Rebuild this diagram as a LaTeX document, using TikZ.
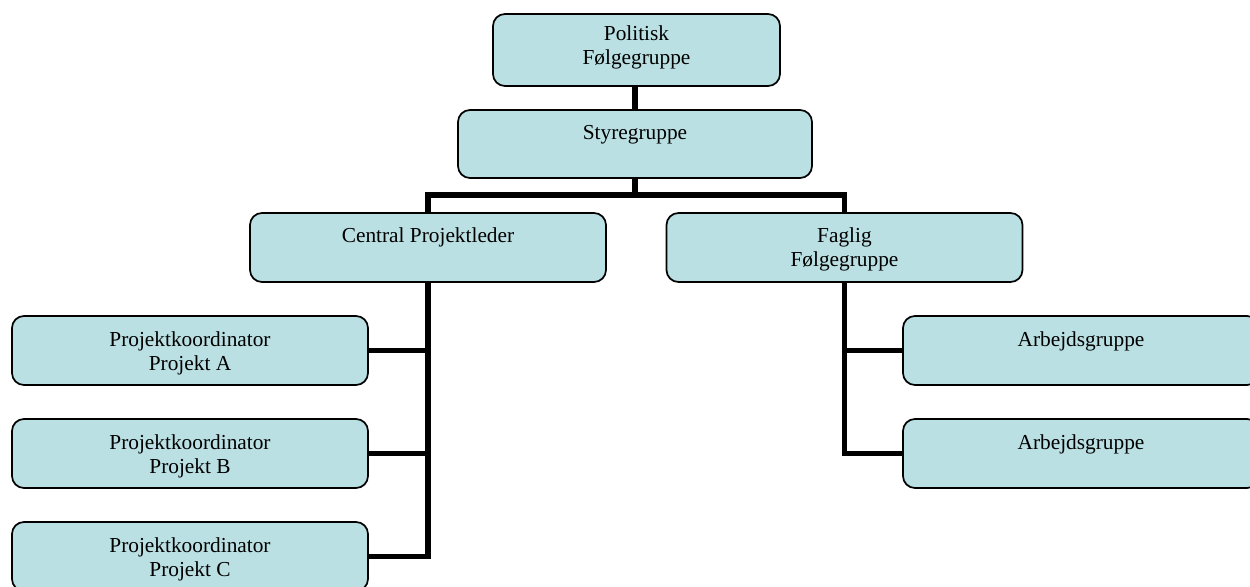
\documentclass[tikz,border=0pt]{standalone}
\usepackage{fontspec}
\setmainfont{Liberation Serif}
\definecolor{boxfill}{RGB}{186,224,227}
\begin{document}
\begin{tikzpicture}[x=0.75pt,y=-0.75pt,
  box/.style={draw=black,line width=1.3pt,fill=boxfill,rounded corners=9pt,
    rectangle,inner sep=0pt,minimum width=267pt,minimum height=51.75pt},
  txt/.style={anchor=base,inner sep=0pt,align=center,
    font=\fontsize{16}{18}\selectfont},
  conn/.style={line width=4pt,draw=black}]
\useasboundingbox (0,0) rectangle (1250,586);
\clip (0,0) rectangle (1250,586);
% connectors (drawn first, boxes on top)
\node[box,minimum width=215.25pt,minimum height=54pt] (pol) at (636.5,50) {};
\node[box,minimum width=265.5pt,minimum height=51pt] (sty) at (635,144) {};
\node[box] (cen) at (428,247.5) {};
\node[box] (fag) at (844.5,247.5) {};
\node[box] (pa) at (190,350.5) {};
\node[box] (pb) at (190,453.5) {};
\node[box] (pc) at (190,556.5) {};
\node[box] (aa) at (1081,350.5) {};
\node[box] (ab) at (1081,453.5) {};
% texts (base = baseline of last line)
\node[txt] (tpol) at ([yshift=-51*0.75pt]pol.north) {Politisk\\Følgegruppe};
\node[txt] (tsty) at ([yshift=-30*0.75pt]sty.north) {Styregruppe};
\node[txt] (tcen) at ([yshift=-30*0.75pt]cen.north) {Central Projektleder};
\node[txt] (tfag) at ([yshift=-54*0.75pt]fag.north) {Faglig\\Følgegruppe};
\node[txt] (tpa) at ([yshift=-55*0.75pt]pa.north) {Projektkoordinator\\Projekt A};
\node[txt] (tpb) at ([yshift=-55*0.75pt]pb.north) {Projektkoordinator\\Projekt B};
\node[txt] (tpc) at ([yshift=-55*0.75pt]pc.north) {Projektkoordinator\\Projekt C};
\node[txt] (taa) at ([yshift=-31*0.75pt]aa.north) {Arbejdsgruppe};
\node[txt] (tab) at ([yshift=-31*0.75pt]ab.north) {Arbejdsgruppe};
% connectors
\coordinate (bar) at (635,195);
\draw[conn] (pol.south -| sty.north) -- (sty.north);
\draw[conn] (sty.south) -- (bar);
\draw[conn] (cen.north) |- (bar) -| (fag.north);
\draw[conn] (cen.south) |- (pc.east);
\draw[conn] (pa.east) -- (pa.east -| cen.south);
\draw[conn] (pb.east) -- (pb.east -| cen.south);
\draw[conn] (fag.south) |- (ab.west);
\draw[conn] (aa.west) -- (aa.west -| fag.south);
\end{tikzpicture}
\end{document}
